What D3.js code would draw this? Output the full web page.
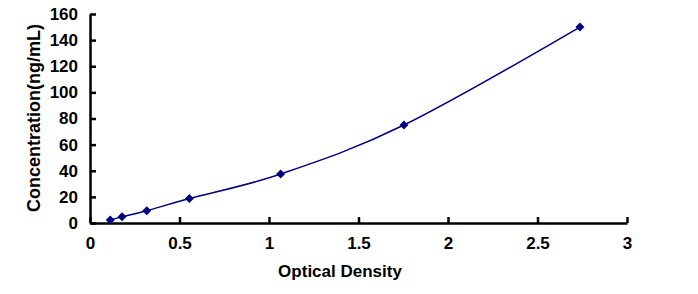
<!DOCTYPE html>
<html lang="en">
<head>
    <meta charset="UTF-8">
    <title>Standard Curve</title>
    <script src="https://d3js.org/d3.v7.min.js"></script>
    <style>
        body { margin: 0; background: #fff; }
        svg { display: block; }
        .tick text { font-family: "Liberation Sans", Arial, sans-serif; font-weight: bold; font-size: 17px; fill: #000; }
        .title { font-family: "Liberation Sans", Arial, sans-serif; font-weight: bold; font-size: 17px; fill: #000; }
    </style>
</head>
<body>
    <svg width="698" height="294"></svg>
    <script>
        // optical density readings and the matching standard concentrations
        const od = [0.113, 0.179, 0.317, 0.555, 1.065, 1.754, 2.737];
        const conc = [2.34, 4.69, 9.38, 18.75, 37.5, 75, 150];
        const xTicks = [0, 0.5, 1, 1.5, 2, 2.5, 3];
        const yTicks = [0, 20, 40, 60, 80, 100, 120, 140, 160];

        const svg = d3.select("svg");
        const plotL = 90, plotR = 627, plotT = 14, plotB = 223;

        const x = d3.scaleLinear().domain([0, 3]).range([plotL, plotR]);
        const y = d3.scaleLinear().domain([0, 160]).range([plotB, plotT]);

        const xAxis = svg.append("g")
            .attr("transform", `translate(0,${plotB})`)
            .call(d3.axisBottom(x).tickValues(xTicks).tickFormat(d3.format("")).tickSizeInner(-6).tickSizeOuter(0).tickPadding(14));
        const yAxis = svg.append("g")
            .attr("transform", `translate(${plotL},0)`)
            .call(d3.axisLeft(y).tickValues(yTicks).tickSizeInner(-6).tickSizeOuter(0).tickPadding(12));

        [xAxis, yAxis].forEach(g => {
            g.select(".domain").attr("stroke", "#000").attr("stroke-width", 2.5);
            g.selectAll(".tick line").attr("stroke", "#000").attr("stroke-width", 2.5);
        });

        const pts = od.map((v, i) => [v, conc[i]]);

        svg.append("path")
            .datum(pts)
            .attr("fill", "none")
            .attr("stroke", "#000080")
            .attr("stroke-width", 1.5)
            .attr("d", d3.line().x(d => x(d[0])).y(d => y(d[1])).curve(d3.curveCardinal.tension(0)));

        // square diamond marker, like the spreadsheet one
        const diamond = "M0,-4.5L4.5,0L0,4.5L-4.5,0Z";
        svg.append("g").selectAll("path")
            .data(pts)
            .join("path")
            .attr("transform", d => `translate(${x(d[0])},${y(d[1])})`)
            .attr("d", diamond)
            .attr("fill", "#000080");

        svg.append("text")
            .attr("class", "title")
            .attr("x", 340)
            .attr("y", 277)
            .attr("text-anchor", "middle")
            .text("Optical Density");

        svg.append("text")
            .attr("class", "title")
            .style("font-size", "18px")
            .attr("transform", "translate(40,118) rotate(-90)")
            .attr("text-anchor", "middle")
            .text("Concentration(ng/mL)");
    </script>
</body>
</html>
